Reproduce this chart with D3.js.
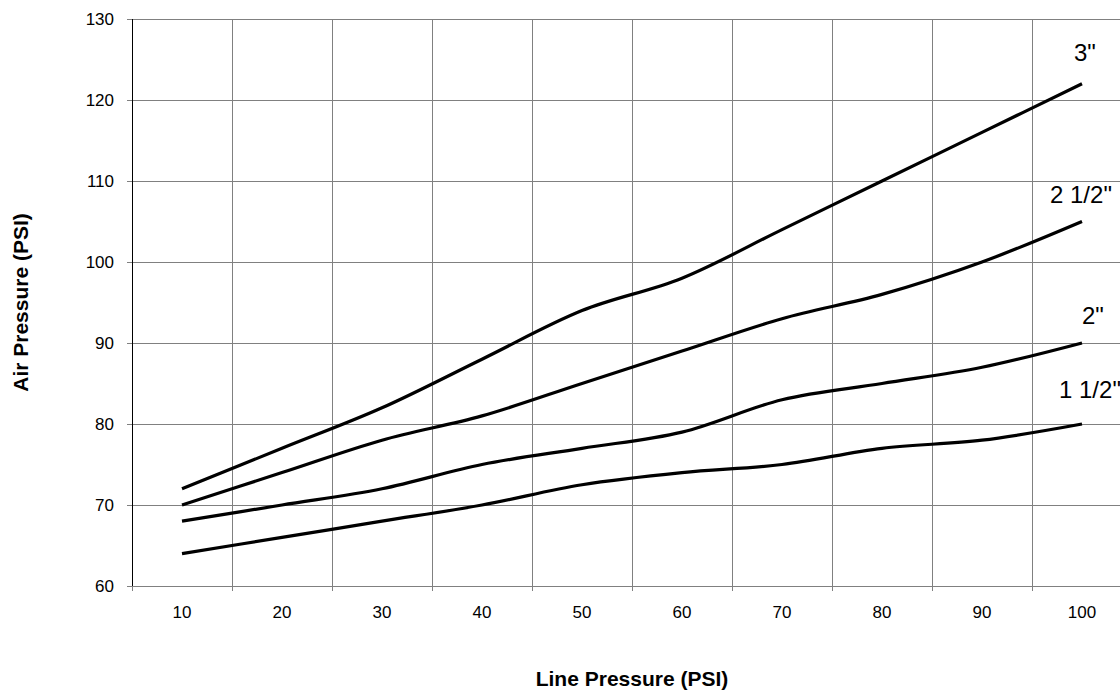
<!DOCTYPE html>
<html>
<head>
<meta charset="utf-8">
<script src="https://cdn.jsdelivr.net/npm/d3@7"></script>
<style>
  html, body { margin: 0; padding: 0; background: #fff; }
  svg { display: block; font-family: Arial, "Liberation Sans", sans-serif; }
</style>
</head>
<body>
<svg id="chart" width="1120" height="691"></svg>
<script>
// ---- data ----
const categories = [10, 20, 30, 40, 50, 60, 70, 80, 90, 100];
const yTicks = [60, 70, 80, 90, 100, 110, 120, 130];
const seriesNames = ['1 1/2"', '2"', '2 1/2"', '3"'];
const s1_5 = [64, 66, 68, 70, 72.5, 74, 75, 77, 78, 80];
const s2   = [68, 70, 72, 75, 77, 79, 83, 85, 87, 90];
const s2_5 = [70, 74, 78, 81, 85, 89, 93, 96, 100, 105];
const s3   = [72, 77, 82, 88, 94, 98, 104, 110, 116, 122];
const seriesValues = [s1_5, s2, s2_5, s3];
const xTitle = "Line Pressure (PSI)";
const yTitle = "Air Pressure (PSI)";

// ---- layout ----
const svg = d3.select("#chart");
const pLeft = 132, pRight = 1132, pTop = 19, pBottom = 586;

const x = d3.scaleBand().domain(categories).range([pLeft, pRight]).padding(0);
const y = d3.scaleLinear().domain([60, 130]).range([pBottom, pTop]);
const cx = c => x(c) + x.bandwidth() / 2;

const grid = svg.append("g");
// horizontal gridlines
grid.selectAll("line.h").data(yTicks).enter().append("line")
  .attr("x1", pLeft).attr("x2", pRight)
  .attr("y1", d => y(d)).attr("y2", d => y(d))
  .attr("stroke", "#808080").attr("stroke-width", 1).attr("shape-rendering", "crispEdges");
// vertical gridlines at category boundaries
const bounds = categories.slice(1).map(c => x(c)).concat([pRight]);
grid.selectAll("line.v").data(bounds).enter().append("line")
  .attr("x1", d => d).attr("x2", d => d)
  .attr("y1", pTop).attr("y2", pBottom + 5)
  .attr("stroke", "#808080").attr("stroke-width", 1).attr("shape-rendering", "crispEdges");

// y axis
const yAxis = d3.axisLeft(y).tickValues(yTicks).tickSize(5).tickPadding(13).tickSizeOuter(0);
const gy = svg.append("g").attr("transform", `translate(${pLeft},0)`).call(yAxis);
gy.select(".domain").attr("stroke", "#000").attr("shape-rendering", "crispEdges");
gy.selectAll(".tick line").attr("stroke", "#808080").attr("shape-rendering", "crispEdges");
gy.selectAll("text").attr("font-size", 17).attr("font-family", "Arial, 'Liberation Sans', sans-serif").attr("fill", "#000");

// x axis (labels centred in categories)
const xAxis = d3.axisBottom(x).tickSize(0).tickPadding(20).tickSizeOuter(0);
const gx = svg.append("g").attr("transform", `translate(0,${pBottom})`).call(xAxis);
gx.select(".domain").remove();
gx.selectAll("text").attr("font-size", 17).attr("font-family", "Arial, 'Liberation Sans', sans-serif").attr("fill", "#000");
// first boundary tick
svg.append("line").attr("x1", pLeft).attr("x2", pLeft).attr("y1", pBottom).attr("y2", pBottom + 5)
  .attr("stroke", "#808080").attr("shape-rendering", "crispEdges");
// left axis line drawn black on top
svg.append("line").attr("x1", pLeft).attr("x2", pLeft).attr("y1", pTop).attr("y2", pBottom)
  .attr("stroke", "#000").attr("shape-rendering", "crispEdges");

// series lines
const line = d3.line()
  .x((d, i) => cx(categories[i]))
  .y(d => y(d))
  .curve(d3.curveCardinal.tension(0));

svg.append("g").selectAll("path").data(seriesValues).enter().append("path")
  .attr("d", d => line(d))
  .attr("fill", "none").attr("stroke", "#000").attr("stroke-width", 3.2)
  .attr("stroke-linecap", "butt");

// series labels near line ends
const labelOffsets = [[-23, -26], [0, -19], [-32, -19], [-8, -23]];
svg.append("g").selectAll("text").data(seriesNames).enter().append("text")
  .attr("x", (d, i) => cx(categories[categories.length - 1]) + labelOffsets[i][0])
  .attr("y", (d, i) => y(seriesValues[i][seriesValues[i].length - 1]) + labelOffsets[i][1])
  .attr("font-size", 24).attr("fill", "#000")
  .text(d => d);

// axis titles
svg.append("text").attr("x", 632).attr("y", 686)
  .attr("text-anchor", "middle").attr("font-size", 21).attr("font-weight", "bold")
  .text(xTitle);
svg.append("text").attr("transform", `translate(28,${(pTop + pBottom) / 2}) rotate(-90)`)
  .attr("text-anchor", "middle").attr("font-size", 21).attr("font-weight", "bold")
  .text(yTitle);
</script>
</body>
</html>
